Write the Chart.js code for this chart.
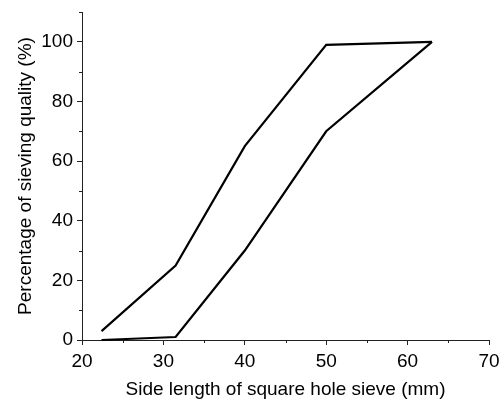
<!DOCTYPE html>
<html>
<head>
<meta charset="utf-8">
<script src="https://cdn.jsdelivr.net/npm/chart.js@4"></script>
<style>
html,body{margin:0;padding:0;background:#fff;}
#c{display:block;}
</style>
</head>
<body>
<canvas id="c" width="503" height="401"></canvas>
<script>
const sieveSizes = [22.4, 31.5, 40, 50, 63];
const upperLimit = [3, 25, 65, 99, 100];
const lowerLimit = [0, 1, 30, 70, 100];
const xMinorTicks = [25, 35, 45, 55, 65];
const yMinorTicks = [10, 30, 50, 70, 90, 110];

const toPoints = (xs, ys) => xs.map((x, i) => ({x: x, y: ys[i]}));

const FONT = 'Liberation Sans, Arial, sans-serif';

const minorTicks = {
  id: 'minorTicks',
  afterDraw(chart) {
    const ctx = chart.ctx;
    const xs = chart.scales.x, ys = chart.scales.y;
    ctx.save();
    ctx.strokeStyle = '#222';
    ctx.lineWidth = 1;
    ctx.beginPath();
    xMinorTicks.forEach(v => {
      const px = Math.round(xs.getPixelForValue(v)) + 0.5;
      ctx.moveTo(px, xs.top);
      ctx.lineTo(px, xs.top + 3);
    });
    yMinorTicks.forEach(v => {
      const py = Math.round(ys.getPixelForValue(v)) + 0.5;
      ctx.moveTo(ys.right, py);
      ctx.lineTo(ys.right - 3, py);
    });
    ctx.stroke();
    ctx.restore();
  }
};

new Chart(document.getElementById('c'), {
  type: 'line',
  data: {
    datasets: [
      {data: toPoints(sieveSizes, upperLimit), borderColor: '#000', borderWidth: 2.2, pointRadius: 0, fill: false, tension: 0, clip: false},
      {data: toPoints(sieveSizes, lowerLimit), borderColor: '#000', borderWidth: 2.2, pointRadius: 0, fill: false, tension: 0, clip: false}
    ]
  },
  options: {
    responsive: false,
    animation: false,
    events: [],
    layout: {padding: {left: 0, right: 14, top: 12, bottom: 0}},
    plugins: {legend: {display: false}, tooltip: {enabled: false}},
    scales: {
      x: {
        type: 'linear',
        min: 20, max: 70,
        ticks: {stepSize: 10, color: '#000', font: {family: FONT, size: 19}, padding: 5, maxRotation: 0},
        grid: {drawOnChartArea: false, drawTicks: true, tickLength: 5, color: '#222'},
        border: {display: true, color: '#222', width: 1},
        title: {display: true, text: 'Side length of square hole sieve (mm)', color: '#000', font: {family: FONT, size: 19}, padding: {top: 0, bottom: 0}},
        afterFit(s) { s.height = 61; s.paddingLeft = 0; s.paddingRight = 0; }
      },
      y: {
        type: 'linear',
        min: 0, max: 110,
        ticks: {stepSize: 20, color: '#000', font: {family: FONT, size: 19}, padding: 4},
        afterBuildTicks(s) { s.ticks = s.ticks.filter(t => t.value % 20 === 0); },
        grid: {drawOnChartArea: false, drawTicks: true, tickLength: 5, color: '#222'},
        border: {display: true, color: '#222', width: 1},
        title: {display: true, text: 'Percentage of sieving quality (%)', color: '#000', font: {family: FONT, size: 19}, padding: {top: 14, bottom: 0}},
        afterFit(s) { s.width = 82; s.paddingTop = 0; s.paddingBottom = 0; }
      }
    }
  },
  plugins: [minorTicks]
});
</script>
</body>
</html>
